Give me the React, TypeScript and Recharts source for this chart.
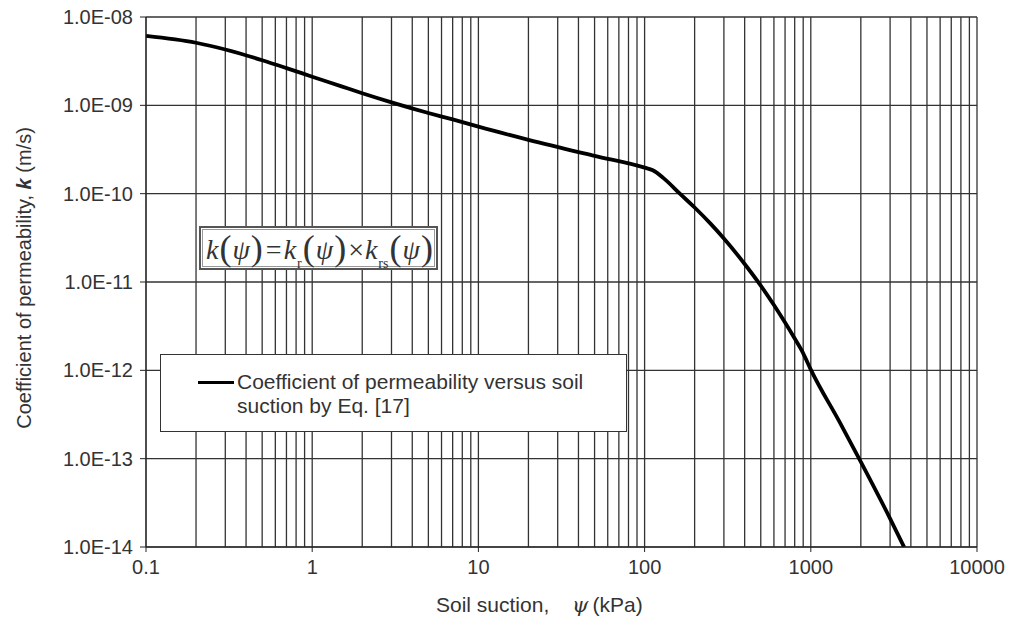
import React from "react";
import {
  LineChart,
  Line,
  XAxis,
  YAxis,
  CartesianGrid,
  ReferenceLine,
  Legend,
} from "recharts";

const suction = [
  0.1, 0.2, 0.3, 0.5, 0.7, 1, 1.5, 2, 3, 5, 7, 10, 20, 50, 100, 112, 130, 163,
  200, 250, 300, 400, 500, 600, 700, 800, 900, 1000, 1500, 2000, 3000, 3640,
];
const permeability = [
  6.11e-9, 5.11e-9, 4.29e-9, 3.24e-9, 2.64e-9, 2.11e-9, 1.64e-9, 1.37e-9,
  1.08e-9, 8.19e-10, 6.92e-10, 5.73e-10, 4.07e-10, 2.68e-10, 1.97e-10, 1.84e-10,
  1.5e-10, 1.0e-10, 6.97e-11, 4.55e-11, 3.11e-11, 1.6e-11, 9.1e-12, 5.48e-12,
  3.47e-12, 2.29e-12, 1.56e-12, 1.02e-12, 2.54e-13, 9.2e-14, 2.1e-14, 1.0e-14,
];
const xTicks = [0.1, 1, 10, 100, 1000, 10000];
const xTickLabels = ["0.1", "1", "10", "100", "1000", "10000"];
const yTicks = [1e-14, 1e-13, 1e-12, 1e-11, 1e-10, 1e-9, 1e-8];
const yTickLabels = [
  "1.0E-14",
  "1.0E-13",
  "1.0E-12",
  "1.0E-11",
  "1.0E-10",
  "1.0E-09",
  "1.0E-08",
];
const minorMultipliers = [2, 3, 4, 5, 6, 7, 8, 9];
const minorDecades = [0.1, 1, 10, 100, 1000];
const legendLabel = ["Coefficient of permeability versus soil", "suction by Eq. [17]"];

const data = suction.map((s, i) => ({ s, k: permeability[i] }));
const minorX: number[] = [];
minorDecades.forEach((d) =>
  minorMultipliers.forEach((m) => minorX.push(parseFloat((d * m).toPrecision(6))))
);

const FONT = "'Liberation Sans', Arial, sans-serif";
const GRID = "#333";
const TEXT = "#333";

const xFmt = (v: number) => {
  const i = xTicks.findIndex((t) => Math.abs(Math.log10(t) - Math.log10(v)) < 1e-6);
  return i >= 0 ? xTickLabels[i] : "";
};
const yFmt = (v: number) => {
  const i = yTicks.findIndex((t) => Math.abs(Math.log10(t) - Math.log10(v)) < 1e-6);
  return i >= 0 ? yTickLabels[i] : "";
};

const XTitle = () => (
  <text y={612} fontFamily={FONT} fontSize={21} fill={TEXT}>
    <tspan x={436}>Soil suction,</tspan>
    <tspan x={572} fontStyle="italic" fontFamily="'DejaVu Serif', serif">
      ψ
    </tspan>
    <tspan dx={4}>(kPa)</tspan>
  </text>
);

const YTitle = () => {
  const cx = 26;
  const cy = 278;
  return (
    <text
      x={cx}
      y={cy}
      transform={`rotate(-90 ${cx} ${cy})`}
      textAnchor="middle"
      dominantBaseline="middle"
      fontFamily={FONT}
      fontSize={20}
      fill={TEXT}
    >
      <tspan>Coefficient of permeability, </tspan>
      <tspan fontStyle="italic" fontWeight="bold">k</tspan>
      <tspan> (m/s)</tspan>
    </text>
  );
};

const LegendBox = () => (
  <div
    style={{
      position: "absolute",
      left: 160,
      top: 354,
      width: 467,
      height: 78,
      border: "1.5px solid #333",
      background: "#fff",
      boxSizing: "border-box",
      fontFamily: FONT,
      fontSize: 21,
      color: TEXT,
      lineHeight: "24px",
    }}
  >
    <div
      style={{
        position: "absolute",
        left: 37,
        top: 26,
        width: 36,
        height: 3,
        background: "#000",
      }}
    />
    <div style={{ position: "absolute", left: 76, top: 15, whiteSpace: "nowrap" }}>
      {legendLabel[0]}
      <br />
      {legendLabel[1]}
    </div>
  </div>
);

const Equation = () => {
  const it: React.CSSProperties = { fontStyle: "italic" };
  const sub: React.CSSProperties = {
    fontStyle: "normal",
    fontSize: 14,
    position: "relative",
    top: 9,
    marginLeft: 1,
  };
  const par: React.CSSProperties = {
    fontSize: 36,
    fontStyle: "normal",
    position: "relative",
    top: 1,
    margin: "0 1px",
  };
  return (
    <div
      style={{
        position: "absolute",
        left: 199,
        top: 226,
        width: 239,
        height: 44,
        border: "2px solid #555",
        boxShadow: "inset 0 0 0 1px #fff, inset 0 0 0 2px #999",
        background: "#fff",
        boxSizing: "border-box",
        fontFamily: "'Liberation Serif', 'DejaVu Serif', serif",
        fontSize: 28,
        color: TEXT,
        whiteSpace: "nowrap",
        lineHeight: "38px",
        paddingLeft: 5,
      }}
    >
      <span style={it}>k</span>
      <span style={par}>(</span>
      <span style={it}>ψ</span>
      <span style={par}>)</span>
      <span style={{ margin: "0 2px" }}>=</span>
      <span style={it}>k</span>
      <span style={sub}>r</span>
      <span style={par}>(</span>
      <span style={it}>ψ</span>
      <span style={par}>)</span>
      <span style={{ margin: "0 1px" }}>×</span>
      <span style={it}>k</span>
      <span style={sub}>rs</span>
      <span style={par}>(</span>
      <span style={it}>ψ</span>
      <span style={par}>)</span>
    </div>
  );
};

export default function App() {
  return (
    <div
      style={{
        position: "absolute",
        left: 0,
        top: 0,
        width: 1014,
        height: 629,
        background: "#fff",
      }}
    >
      <LineChart
        width={1014}
        height={629}
        data={data}
        margin={{ top: 17, right: 37, bottom: 22, left: 0 }}
      >
        <CartesianGrid stroke={GRID} strokeWidth={1.3} />
        {minorX.map((v) => (
          <ReferenceLine
            key={v}
            x={v}
            stroke={GRID}
            strokeWidth={1.3}
            ifOverflow="hidden"
          />
        ))}
        <XAxis
          dataKey="s"
          type="number"
          scale="log"
          domain={[0.1, 10000]}
          allowDataOverflow
          ticks={xTicks}
          tickFormatter={xFmt}
          interval={0}
          height={60}
          tickSize={5}
          tickMargin={8}
          stroke="#222"
          tick={{ fontFamily: FONT, fontSize: 20, fill: TEXT }}
          label={<XTitle />}
        />
        <YAxis
          dataKey="k"
          type="number"
          scale="log"
          domain={[1e-14, 1e-8]}
          allowDataOverflow
          ticks={yTicks}
          tickFormatter={yFmt}
          interval={0}
          width={146}
          tickSize={6}
          tickMargin={7}
          stroke="#222"
          tick={{ fontFamily: FONT, fontSize: 20, fill: TEXT }}
          label={<YTitle />}
        />
        <Legend content={() => null} />
        <Line
          type="monotone"
          dataKey="k"
          stroke="#000"
          strokeWidth={3.8}
          dot={false}
          isAnimationActive={false}
        />
      </LineChart>
      <Equation />
      <LegendBox />
    </div>
  );
}
